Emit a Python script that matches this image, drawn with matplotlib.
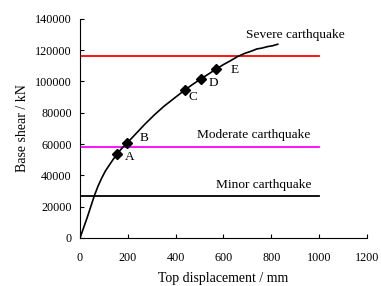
import numpy as np
from matplotlib import pyplot as plt

plt.rcParams['font.family'] = ['Liberation Serif', 'DejaVu Serif']

# pushover curve (top displacement mm, base shear kN)
disp = [0, 15, 30, 45, 60, 75, 90, 105, 120, 140, 155, 175, 197, 230, 270, 310, 350,
        400, 439, 470, 505, 540, 568, 600, 630, 660, 690, 715, 740, 760, 785, 805, 827]
shear = [0, 6500, 13000, 20000, 27000, 33000, 38000, 42500, 46000, 50500, 53700, 57300,
         60700, 66000, 72500, 78500, 84000, 90000, 94600, 98000, 101600, 105000, 107800,
         110800, 113300, 116000, 118000, 119300, 120800, 121300, 122300, 122800, 123800]

# performance points
pt_labels = ['A', 'B', 'C', 'D', 'E']
pt_disp = [155, 197, 439, 505, 568]
pt_shear = [53700, 60700, 94600, 101600, 107800]

# earthquake levels
levels = [116000, 58000, 26800]
level_colors = ['#ff0000', '#ff00ff', '#000000']
level_names = ['Severe carthquake', 'Moderate carthquake', 'Minor carthquake']

fig = plt.figure(figsize=(3.81, 2.86), dpi=100)
ax = fig.add_axes([0.21, 0.168, 0.753, 0.766])

for y, c in zip(levels, level_colors):
    ax.plot([0, 1000], [y, y], color=c, lw=1.3)

ax.plot(disp, shear, color='black', lw=1.2)
ax.plot(pt_disp, pt_shear, 'D', color='black', markersize=5.5)

lab_pos = [(209, 52000), (268, 63900), (473, 90100), (557, 99100), (649, 107400)]
for lab, (x, y) in zip(pt_labels, lab_pos):
    ax.text(x, y, lab, fontsize=9.5, va='center', ha='center')

ax.text(900, 129800, level_names[0], fontsize=9.6, ha='center', va='center')
ax.text(726, 65800, level_names[1], fontsize=9.6, ha='center', va='center')
ax.text(768, 33900, level_names[2], fontsize=9.6, ha='center', va='center')

ax.set_xlim(0, 1200)
ax.set_ylim(0, 140000)
ax.set_xticks(np.arange(0, 1201, 200))
ax.set_yticks(np.arange(0, 140001, 20000))
ax.tick_params(direction='in', length=3, labelsize=8.7, pad=10)
ax.tick_params(axis='y', pad=6)
for s in ['top', 'right']:
    ax.spines[s].set_visible(False)
ax.set_xlabel('Top displacement / mm', fontsize=10, labelpad=6)
ax.set_ylabel('Base shear / kN', fontsize=10, labelpad=4)

fig.savefig('out.png', dpi=100)
